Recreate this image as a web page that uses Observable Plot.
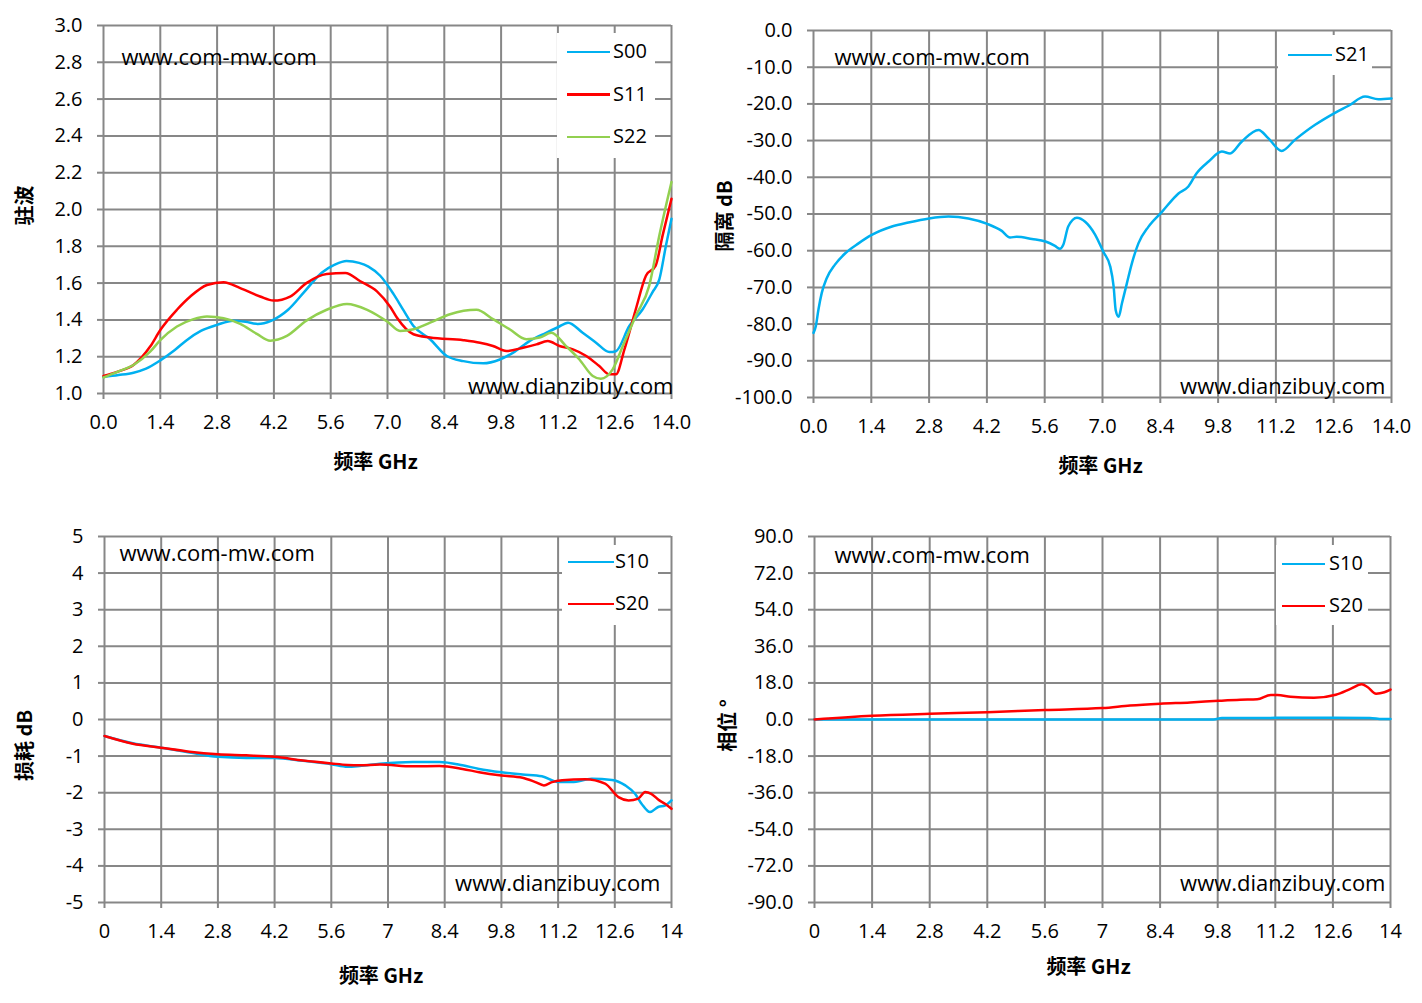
<!DOCTYPE html>
<html><head><meta charset="utf-8">
<script src="https://cdn.jsdelivr.net/npm/d3@7"></script>
<script src="https://cdn.jsdelivr.net/npm/@observablehq/plot@0.6"></script>
<style>
body{margin:0;background:#fff;}
#wrap{position:relative;width:1422px;height:1003px;overflow:hidden;background:#fff;}
.panel{position:absolute;}
.legend{position:absolute;background:#fff;font-family:"Open Sans",sans-serif;font-size:20px;color:#000;}
.legend .sw{position:absolute;height:2.5px;}
.legend .lb{position:absolute;line-height:1;transform:translateY(-55%);}
</style></head>
<body><div id="wrap"></div>
<script>
// ---------- data ----------
const xTicks = [0, 1.4, 2.8, 4.2, 5.6, 7, 8.4, 9.8, 11.2, 12.6, 14];
const vswrTicks = [1.0, 1.2, 1.4, 1.6, 1.8, 2.0, 2.2, 2.4, 2.6, 2.8, 3.0];
const isoTicks = [0, -10, -20, -30, -40, -50, -60, -70, -80, -90, -100];
const lossTicks = [5, 4, 3, 2, 1, 0, -1, -2, -3, -4, -5];
const phaseTicks = [90, 72, 54, 36, 18, 0, -18, -36, -54, -72, -90];

const s00F = [0,0.37,0.74,1.05,1.4,1.75,2.05,2.4,2.8,3.2,3.5,3.8,4.13,4.55,4.96,5.37,5.7,5.99,6.3,6.53,6.82,7.15,7.4,7.64,8.05,8.46,8.87,9.36,9.77,10.1,10.5,10.91,11.2,11.45,11.81,12.14,12.47,12.63,12.96,13.29,13.53,13.7,13.86,14.0];
const s00V = [1.09,1.10,1.113,1.135,1.18,1.235,1.29,1.34,1.373,1.396,1.39,1.378,1.395,1.455,1.555,1.655,1.70,1.72,1.71,1.69,1.64,1.54,1.45,1.367,1.295,1.204,1.176,1.164,1.185,1.222,1.285,1.33,1.36,1.385,1.33,1.276,1.225,1.23,1.367,1.458,1.55,1.62,1.8,1.95];
const s11F = [0,0.37,0.74,1.15,1.4,1.81,2.14,2.55,2.96,3.37,3.86,4.19,4.6,5.0,5.5,5.96,6.33,6.74,7.07,7.23,7.64,8.05,8.87,9.28,9.6,9.93,10.34,10.67,10.95,11.24,11.57,11.9,12.22,12.47,12.63,12.84,13.12,13.37,13.61,13.78,14.0];
const s11V = [1.095,1.12,1.155,1.255,1.345,1.455,1.527,1.59,1.605,1.573,1.527,1.505,1.527,1.6,1.65,1.655,1.61,1.555,1.47,1.413,1.322,1.304,1.29,1.276,1.258,1.231,1.249,1.267,1.285,1.258,1.24,1.204,1.149,1.104,1.104,1.24,1.458,1.64,1.695,1.858,2.058];
const s22F = [0,0.37,0.74,1.15,1.4,1.81,2.22,2.55,2.96,3.37,3.78,4.11,4.52,5.0,5.5,6.0,6.5,7.0,7.31,7.64,8.05,8.54,9.19,9.6,10.01,10.42,10.75,11.04,11.4,11.73,12.06,12.26,12.55,12.8,13.12,13.45,13.7,14.0];
const s22V = [1.087,1.12,1.155,1.227,1.29,1.364,1.404,1.418,1.409,1.378,1.324,1.287,1.313,1.396,1.455,1.487,1.455,1.39,1.34,1.349,1.385,1.431,1.455,1.404,1.349,1.295,1.304,1.33,1.258,1.185,1.095,1.08,1.131,1.258,1.422,1.585,1.858,2.149];

const s21F = [0,0.056,0.12,0.2,0.32,0.52,0.77,1.09,1.41,1.9,2.3,2.8,3.27,3.75,4.21,4.56,4.76,4.92,5.29,5.62,5.85,5.97,6.05,6.17,6.38,6.58,6.82,7.02,7.19,7.27,7.32,7.39,7.47,7.59,7.71,7.87,8.11,8.44,8.84,9.08,9.28,9.57,9.89,10.09,10.37,10.78,11.02,11.34,11.66,12.15,12.62,12.96,13.36,13.68,14.0];
const s21V = [-82.4,-80.6,-76,-71.5,-67.5,-63.8,-60.7,-58,-55.7,-53.4,-52.3,-51.2,-50.7,-51.2,-52.7,-54.6,-56.4,-56.2,-56.8,-57.5,-58.7,-59.5,-58.4,-53.4,-51,-52.1,-55.6,-60.3,-64.4,-69.8,-76.2,-78,-74.4,-68.9,-63.5,-58,-53.5,-49.4,-44.4,-42.5,-38.9,-35.7,-33,-33.5,-30.3,-27.1,-29.4,-32.8,-29.8,-25.7,-22.5,-20.5,-18,-18.7,-18.5];

const l10F = [0,0.7,1.4,2.1,2.8,3.5,4.2,4.9,5.6,6.0,6.3,6.8,7.61,8.27,8.84,9.25,9.8,10.32,10.8,11.22,11.54,12.03,12.53,12.86,13.1,13.26,13.47,13.67,13.84,14];
const l10V = [-0.45,-0.65,-0.77,-0.9,-1.02,-1.05,-1.05,-1.13,-1.22,-1.29,-1.27,-1.21,-1.16,-1.16,-1.25,-1.35,-1.44,-1.5,-1.55,-1.71,-1.71,-1.62,-1.65,-1.8,-2.03,-2.3,-2.53,-2.39,-2.35,-2.21];
const l20F = [0,0.7,1.4,2.1,2.8,3.5,4.2,4.9,5.6,6.0,6.3,6.8,7.61,8.27,8.84,9.25,9.8,10.32,10.64,10.85,11.05,11.3,11.87,12.36,12.69,12.94,13.18,13.35,13.5,13.7,13.84,14];
const l20V = [-0.45,-0.66,-0.77,-0.88,-0.95,-0.98,-1.02,-1.12,-1.2,-1.24,-1.25,-1.23,-1.28,-1.27,-1.35,-1.44,-1.53,-1.59,-1.71,-1.8,-1.71,-1.66,-1.63,-1.75,-2.12,-2.21,-2.16,-1.98,-2.03,-2.21,-2.3,-2.44];

const p10F = [0,2.8,5.6,8.4,9.7,9.9,11.2,12.6,13.5,13.8,14];
const p10V = [0,0,0,0,0,0.7,0.8,0.8,0.7,0.2,0.2];
const p20F = [0,1.4,2.8,4.2,5.6,7.0,7.67,8.4,9.13,9.82,10.35,10.76,11.09,11.25,11.57,12.14,12.67,13.04,13.3,13.44,13.65,13.85,14];
const p20V = [0,1.8,2.8,3.6,4.7,5.6,6.9,7.8,8.4,9.2,9.7,9.9,12.0,12.0,11.2,10.7,12.2,15.2,17.3,16.0,12.7,13.4,14.7];

const xTitle = "频率 GHz";
const wmTop = "www.com-mw.com";
const wmBottom = "www.dianzibuy.com";

// ---------- style ----------
const BLUE = "#00b0f0", RED = "#ff0000", GREEN = "#92d050", GRID = "#878787";
const LAT = '"Open Sans", sans-serif';
const CJK = '"Noto Sans CJK SC", sans-serif';
const f1 = d => d.toFixed(1);
const f0 = d => String(d);

const wrap = document.getElementById("wrap");

function panel(c) {
  const marks = [
    Plot.gridX(xTicks, {stroke: GRID, strokeOpacity: 1, strokeWidth: 2}),
    Plot.gridY(c.yTicks, {stroke: GRID, strokeOpacity: 1, strokeWidth: 2}),
    Plot.axisX(xTicks, {tickSize: 6, tickPadding: 15, stroke: GRID, strokeWidth: 2, tickFormat: c.xFmt, fontSize: 20, fontFamily: LAT, label: null}),
    Plot.axisY(c.yTicks, {tickSize: 6, tickPadding: 15, stroke: GRID, strokeWidth: 2, tickFormat: c.yFmt, fontSize: 20, fontFamily: LAT, label: null}),
    ...c.series.map(s => Plot.line(d3.zip(s.f, s.v), {x: d => d[0], y: d => d[1], stroke: s.color, strokeWidth: 2.5, curve: "monotone-x"})),
    Plot.text([wmTop], {text: d => d, frameAnchor: "top-left", textAnchor: "start", lineAnchor: "middle", dx: c.wt[0], dy: c.wt[1], fontSize: 22, fontFamily: LAT, fill: "#000"}),
    Plot.text([wmBottom], {text: d => d, frameAnchor: "bottom-right", textAnchor: "end", lineAnchor: "middle", dx: c.wb[0], dy: c.wb[1], fontSize: 22, fontFamily: LAT, fill: "#000"}),
    Plot.text([xTitle], {text: d => d, frameAnchor: "bottom", textAnchor: "middle", lineAnchor: "middle", dx: c.xt[0], dy: c.xt[1], fontSize: 20, fontWeight: "bold", fontFamily: CJK, fill: "#000"}),
    Plot.text([c.yTitle], {text: d => d, frameAnchor: "left", textAnchor: "middle", lineAnchor: "middle", rotate: -90, dx: c.yt[0], dy: c.yt[1], fontSize: 20, fontWeight: "bold", fontFamily: CJK, fill: "#000"})
  ];
  const svg = Plot.plot({
    width: c.w, height: c.h,
    marginLeft: c.m[0], marginRight: c.m[1], marginTop: c.m[2], marginBottom: c.m[3],
    x: {domain: [0, 14]},
    y: {domain: c.yDomain},
    style: {background: "transparent", fontFamily: LAT},
    marks
  });
  svg.classList.add("panel");
  svg.style.left = c.left + "px";
  svg.style.top = c.top + "px";
  wrap.appendChild(svg);

  const lg = document.createElement("div");
  lg.className = "legend";
  lg.style.left = c.lg.left + "px";
  lg.style.top = c.lg.top + "px";
  lg.style.width = c.lg.w + "px";
  lg.style.height = c.lg.h + "px";
  c.series.forEach((s, i) => {
    const y = c.lg.y0 + i * c.lg.dy;
    const sw = document.createElement("div");
    sw.className = "sw";
    sw.style.background = s.color;
    sw.style.left = c.lg.sx + "px";
    sw.style.width = c.lg.sw + "px";
    sw.style.top = (y - 1.25) + "px";
    lg.appendChild(sw);
    const lb = document.createElement("div");
    lb.className = "lb";
    lb.textContent = s.name;
    lb.style.left = c.lg.tx + "px";
    lb.style.top = y + "px";
    lg.appendChild(lb);
  });
  wrap.appendChild(lg);
}

panel({
  left: 0, top: 0, w: 700, h: 490, m: [103, 29, 25, 97],
  yDomain: [1, 3], yTicks: vswrTicks, xFmt: f1, yFmt: f1,
  yTitle: "驻波",
  series: [
    {name: "S00", f: s00F, v: s00V, color: BLUE},
    {name: "S11", f: s11F, v: s11V, color: RED},
    {name: "S22", f: s22F, v: s22V, color: GREEN}
  ],
  wt: [18, 32], wb: [2, -7], xt: [-12, 69], yt: [-78, -4],
  lg: {left: 557, top: 33, w: 98, h: 125, y0: 19, dy: 42.5, sx: 10, sw: 43, tx: 56}
});

panel({
  left: 710, top: 0, w: 712, h: 490, m: [103, 31, 30, 93],
  yDomain: [-100, 0], yTicks: isoTicks, xFmt: f1, yFmt: f1,
  yTitle: "隔离 dB",
  series: [{name: "S21", f: s21F, v: s21V, color: BLUE}],
  wt: [21, 27], wb: [-6, -11], xt: [-2, 69], yt: [-88, 2],
  lg: {left: 1278, top: 35, w: 94, h: 40, y0: 20, dy: 42, sx: 10, sw: 44, tx: 57}
});

panel({
  left: 0, top: 500, w: 700, h: 503, m: [104, 29, 36, 101],
  yDomain: [-5, 5], yTicks: lossTicks, xFmt: f0, yFmt: f0,
  yTitle: "损耗 dB",
  series: [
    {name: "S10", f: l10F, v: l10V, color: BLUE},
    {name: "S20", f: l20F, v: l20V, color: RED}
  ],
  wt: [15, 17], wb: [-11, -19], xt: [-7, 74], yt: [-79, 26],
  lg: {left: 562, top: 545, w: 96, h: 80, y0: 17, dy: 42, sx: 6, sw: 46, tx: 53}
});

panel({
  left: 710, top: 500, w: 712, h: 503, m: [104, 32, 36, 101],
  yDomain: [-90, 90], yTicks: phaseTicks, xFmt: f0, yFmt: f1,
  yTitle: "相位 °",
  series: [
    {name: "S10", f: p10F, v: p10V, color: BLUE},
    {name: "S20", f: p20F, v: p20V, color: RED}
  ],
  wt: [20, 19], wb: [-5, -19], xt: [-14, 65], yt: [-86, 6],
  lg: {left: 1276, top: 545, w: 92, h: 80, y0: 19, dy: 42, sx: 6, sw: 43, tx: 53}
});
</script>
</body></html>
